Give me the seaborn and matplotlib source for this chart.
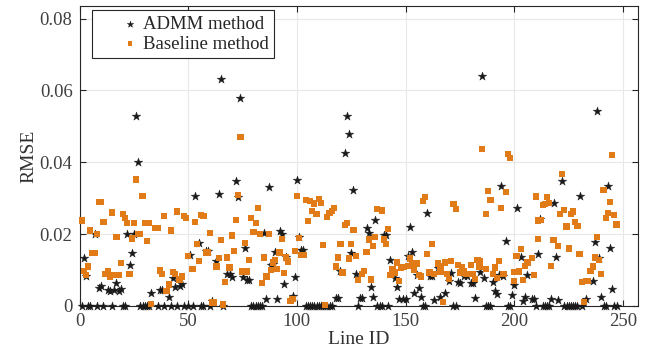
import matplotlib
matplotlib.use("Agg")
import matplotlib.pyplot as plt
from matplotlib.collections import PathCollection
from matplotlib.legend_handler import HandlerPathCollection
import seaborn as sns
import pandas as pd

# ---------------- data ----------------
admm_id = [1, 2, 3, 4, 5, 7, 8, 9, 10, 11, 13, 14, 15, 16, 17, 18, 19, 20, 21, 22,
           23, 24, 25, 26, 27, 28, 29, 30, 31, 32, 33, 36, 37, 38, 39, 41, 42, 43, 44, 45,
           46, 47, 48, 50, 51, 52, 53, 55, 56, 57, 58, 59, 60, 61, 63, 64, 65, 66, 68, 69,
           70, 72, 73, 74, 75, 76, 77, 78, 79, 80, 81, 82, 83, 84, 85, 86, 87, 88, 89, 90,
           91, 92, 93, 94, 95, 98, 99, 100, 101, 102, 103, 104, 105, 106, 107, 108, 109, 110, 111, 112,
           113, 114, 115, 116, 118, 119, 120, 122, 123, 124, 125, 126, 127, 128, 129, 130, 132, 133, 134, 135,
           136, 137, 138, 139, 140, 141, 142, 143, 145, 146, 147, 149, 150, 151, 152, 153, 154, 155, 156, 157,
           158, 159, 160, 161, 162, 163, 165, 166, 168, 170, 171, 172, 173, 174, 175, 177, 178, 180, 181, 182,
           184, 185, 186, 187, 188, 189, 190, 191, 192, 193, 194, 195, 196, 197, 198, 199, 200, 201, 203, 204,
           205, 206, 208, 209, 210, 211, 212, 213, 214, 215, 216, 217, 218, 219, 220, 222, 223, 224, 225, 226,
           227, 228, 229, 230, 231, 233, 236, 237, 238, 239, 240, 241, 242, 243, 244, 245, 246, 247]
admm_rmse = [0, .0133, .0084, 0, 0, .020, 0, .0050, .0055, 0, .0045, .0043, 0, .0045, .0064, .0042, .0046, 0, 0, .020,
             .0113, .0148, .020, .053, .040, 0, 0, 0, 0, 0, .0035, 0, .0044, .0044, 0, .0024, 0, .0077, .0052, 0,
             .0056, .0060, 0, 0, .0142, 0, .0307, .0176, 0, 0, .0153, .0153, 0, .0015, .0125, .0313, .0633, 0, .0090, .0090,
             .0080, .0347, .0304, .0578, .0081, .0162, .0072, .0072, 0, 0, 0, 0, 0, 0, .0203, .0019, .0331, .0113, .0116, .0149,
             .0019, .0208, .0200, .0061, .0135, .0029, .0081, .0350, .0193, .0156, .0156, 0, 0, 0, 0, 0, 0, 0, 0, 0,
             0, 0, 0, 0, .0022, .0022, .0098, .0425, .0530, .0480, .0147, .0324, .0089, 0, .0022, .0022, .0218, .0204, .0052, .0024,
             .0238, 0, 0, 0, .0197, .0199, 0, .0127, .0078, .0054, .0020, .0020, .0020, .0138, .0220, .0150, .0037, .0087, .0049, .0024,
             0, 0, .0259, .0084, .0084, .0017, .0107, .0024, .0037, .0070, .0093, 0, 0, .0066, .0063, .0084, .0084, .0063, .0063, .0022,
             .0095, .0640, .0078, 0, 0, 0, .0067, .0041, .0033, .0087, .0333, .0084, .0181, 0, 0, .0031, .0058, .0273, .0135, .0015,
             .0026, .0087, .0019, .0019, 0, .0146, .0243, 0, 0, 0, 0, .0019, .0287, .0135, .0017, .0347, 0, 0, 0, 0,
             0, 0, 0, .0305, 0, .0019, .0070, .0179, .0544, .0133, .0026, 0, 0, .0333, .0161, .0046, 0, 0]

base_id = [1, 2, 3, 4, 5, 6, 7, 8, 9, 10, 11, 12, 13, 14, 15, 16, 17, 18, 19, 20,
           21, 22, 23, 24, 25, 26, 27, 28, 29, 30, 31, 32, 33, 35, 36, 37, 38, 39, 40, 41,
           42, 43, 44, 45, 46, 47, 48, 49, 50, 52, 53, 54, 55, 56, 57, 58, 59, 60, 61, 62,
           63, 64, 65, 66, 67, 68, 69, 70, 71, 72, 73, 74, 75, 76, 77, 78, 79, 80, 81, 82,
           83, 84, 85, 86, 87, 88, 89, 90, 91, 92, 93, 94, 95, 96, 97, 98, 99, 100, 101, 102,
           103, 104, 105, 106, 107, 108, 109, 110, 111, 112, 113, 114, 115, 116, 117, 118, 119, 120, 121, 122,
           123, 124, 125, 126, 127, 128, 130, 131, 132, 133, 134, 135, 136, 137, 139, 140, 141, 142, 143, 144,
           145, 146, 147, 148, 149, 151, 152, 153, 154, 155, 156, 157, 158, 159, 160, 161, 162, 163, 165, 166,
           166, 167, 168, 169, 170, 171, 172, 173, 174, 175, 176, 177, 178, 180, 180, 181, 182, 183, 184, 184,
           185, 187, 187, 188, 189, 190, 191, 192, 193, 194, 195, 196, 197, 198, 200, 200, 201, 202, 203, 204,
           205, 206, 208, 209, 210, 211, 211, 212, 213, 214, 215, 216, 217, 218, 220, 221, 222, 223, 224, 225,
           226, 227, 228, 229, 230, 231, 232, 233, 234, 235, 236, 237, 238, 239, 240, 241, 242, 243, 244, 245,
           246, 247]
base_rmse = [.0238, .0098, .0086, .0110, .0210, .0148, .0148, .0200, .0290, .0290, .0234, .0089, .0098, .0080, .0260, .0087, .0192, .0087, .0120, .0257,
             .0245, .0230, .0090, .0188, .0230, .0352, .0200, .0200, .0307, .0230, .0180, .0230, .0005, .0217, .0217, .0099, .0089, .0250, .0042, .0060,
             .0210, .0095, .0090, .0263, .0074, .0082, .0250, .0245, .0139, .0102, .0233, .0173, .0125, .0253, .0250, .0149, .0149, .0203, .0010, .0010,
             .0110, .0133, .0183, .0004, .0066, .0135, .0107, .0196, .0152, .0240, .0308, .0470, .0096, .0176, .0096, .0127, .0245, .0205, .0230, .0272,
             .0200, .0064, .0135, .0082, .0200, .0100, .0121, .0127, .0102, .0149, .0186, .0091, .0135, .0124, .0015, .0020, .0153, .0307, .0190, .0141,
             .0141, .0294, .0236, .0292, .0264, .0285, .0256, .0298, .0287, .0170, .0003, .0247, .0258, .0264, .0273, .0110, .0135, .0172, .0093, .0225,
             .0230, .0132, .0172, .0212, .0140, .0072, .0089, .0098, .0151, .0185, .0074, .0167, .0193, .0269, .0266, .0185, .0173, .0215, .0086, .0102,
             .0093, .0121, .0070, .0105, .0109, .0111, .0132, .0116, .0100, .0118, .0087, .0082, .0292, .0303, .0144, .0093, .0172, .0090, .0118, .0095,
             .0112, .0012, .0121, .0090, .0075, .0125, .0284, .0269, .0114, .0093, .0107, .0098, .0089, .0089, .0114, .0089, .0075, .0128, .0124, .0110,
             .0437, .0102, .0256, .0321, .0296, .0090, .0107, .0078, .0125, .0272, .0089, .0317, .0424, .0412, .0095, .0070, .0139, .0096, .0158, .0072,
             .0112, .0121, .0133, .0087, .0305, .0187, .0238, .0240, .0282, .0284, .0303, .0287, .0112, .0184, .0166, .0257, .0367, .0267, .0221, .0160,
             .0257, .0263, .0234, .0223, .0144, .0066, .0012, .0070, .0070, .0098, .0110, .0135, .0191, .0128, .0089, .0323, .0244, .0258, .0290, .0420,
             .0254, .0227]

series_names = ["ADMM method", "Baseline method"]
x_ticks = [0, 50, 100, 150, 200, 250]
y_ticks = [0, 0.02, 0.04, 0.06, 0.08]
y_tick_labels = ["0", "0.02", "0.04", "0.06", "0.08"]

# ---------------- style ----------------
sns.set_theme(style="white")
plt.rcParams["font.family"] = ["Liberation Serif", "DejaVu Serif"]
ink = "#262626"

df_admm = pd.DataFrame({"Line ID": admm_id, "RMSE": admm_rmse})
df_base = pd.DataFrame({"Line ID": base_id, "RMSE": base_rmse})

fig = plt.figure(figsize=(6.57, 3.54), dpi=100)
ax = fig.add_axes([79.5 / 657, 1 - 306 / 354, (638.3 - 79.5) / 657, (306 - 6) / 354])

sns.scatterplot(data=df_admm, x="Line ID", y="RMSE", marker="*", s=42,
                color="#1a1a1a", edgecolor="#1a1a1a", linewidth=0.3,
                label=series_names[0], ax=ax, clip_on=False, zorder=3)
sns.scatterplot(data=df_base, x="Line ID", y="RMSE", marker="s", s=20,
                color="#E07B17", edgecolor="none", linewidth=0,
                label=series_names[1], ax=ax, clip_on=False, zorder=4)

ax.set_xlim(0, 257)
ax.set_ylim(0, 0.0835)
ax.set_xticks(x_ticks)
ax.set_yticks(y_ticks)
ax.set_yticklabels(y_tick_labels)
ax.grid(True, color="#e8e8e8", linewidth=0.8)
ax.set_axisbelow(True)
for sp in ax.spines.values():
    sp.set_visible(True)
    sp.set_color(ink)
    sp.set_linewidth(0.8)
ax.tick_params(direction="in", length=4, width=0.8, colors=ink, labelsize=13.5,
               top=True, right=True, bottom=True, left=True, pad=5)
for lbl in ax.get_xticklabels() + ax.get_yticklabels():
    lbl.set_color("#404040")
ax.set_xlabel("Line ID", fontsize=14, color="#303030", labelpad=1)
ax.set_ylabel("RMSE", fontsize=14, color="#303030", labelpad=2)

leg = ax.legend(loc="upper left", bbox_to_anchor=(0.022, 0.987), borderaxespad=0,
                frameon=True, fancybox=False, fontsize=13.5, handletextpad=0.12,
                borderpad=0.3, labelspacing=0.15, markerscale=0.75,
                handlelength=2.3,
                handler_map={PathCollection: HandlerPathCollection(xpad=1.16)})
leg.get_frame().set_edgecolor(ink)
leg.get_frame().set_linewidth(0.8)
leg.get_frame().set_facecolor("white")
leg.get_frame().set_alpha(1)

fig.savefig("out.png", dpi=100)
